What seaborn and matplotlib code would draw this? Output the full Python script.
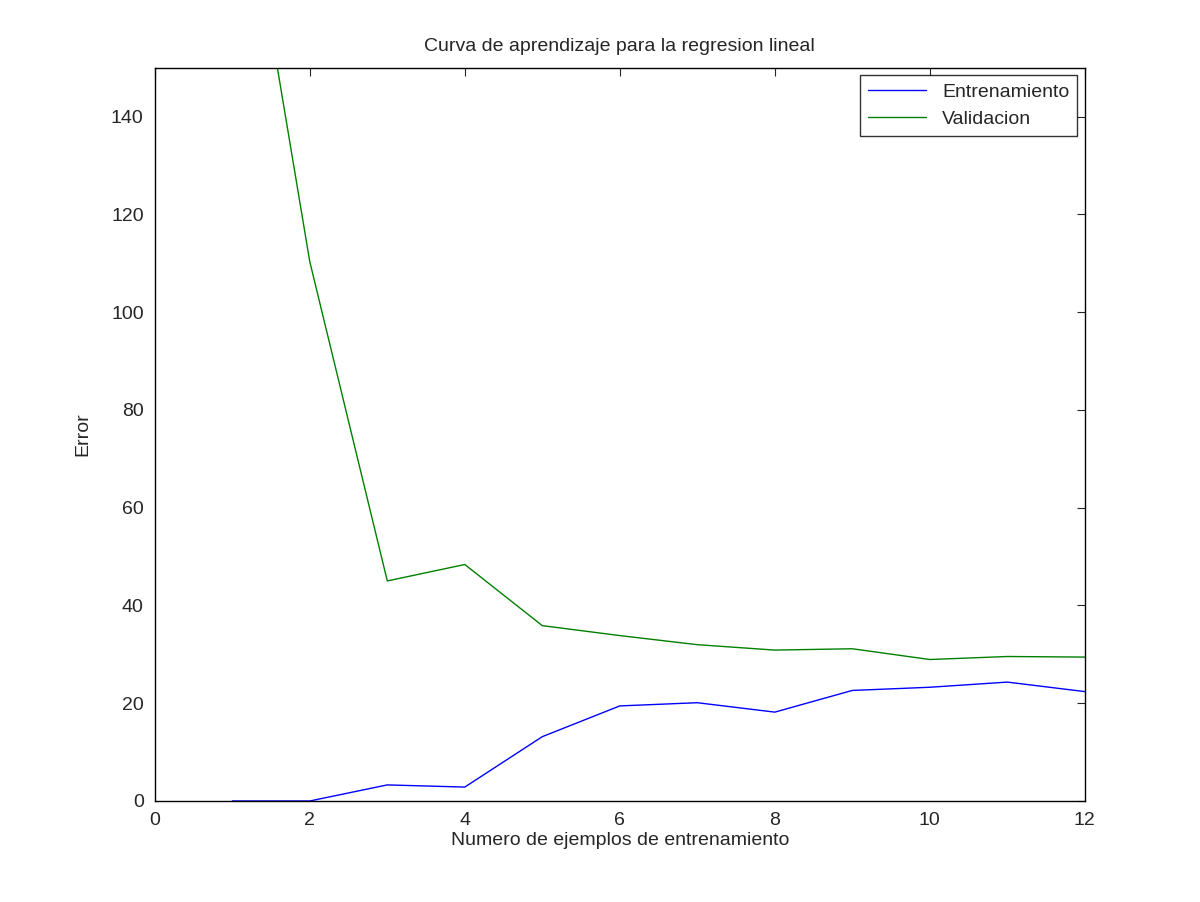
import matplotlib
matplotlib.use("Agg")
import matplotlib.pyplot as plt
import seaborn as sns
import pandas as pd

m = list(range(1, 13))
error_train = [0.0, 0.0, 3.2866, 2.8427, 13.1540, 19.4440, 20.0985, 18.1729,
               22.6094, 23.2615, 24.3173, 22.3739]
error_val = [205.1211, 110.3004, 45.0102, 48.3689, 35.8652, 33.8300, 31.9710,
             30.8624, 31.1360, 28.9362, 29.5514, 29.4338]

df = pd.DataFrame({"m": m + m,
                   "error": error_train + error_val,
                   "set": ["Entrenamiento"] * 12 + ["Validacion"] * 12})

sns.set_style("white")
plt.rcParams["font.family"] = ["Liberation Sans", "DejaVu Sans"]

fig, ax = plt.subplots(figsize=(12, 9.02), dpi=100)
fig.subplots_adjust(left=0.129, right=0.904, top=0.925, bottom=0.112)

sns.lineplot(data=df, x="m", y="error", hue="set",
             palette=["#0000ff", "#008000"], linewidth=1, ax=ax)

ax.set_xlim(0, 12)
ax.set_ylim(0, 150)
ax.set_xticks(range(0, 13, 2))
ax.set_yticks(range(0, 141, 20))
ax.tick_params(direction="in", top=True, right=True, labelsize=14, length=6, pad=8)
for s in ax.spines.values():
    s.set_color("black")
    s.set_linewidth(1)

ax.set_title("Curva de aprendizaje para la regresion lineal", fontsize=14, pad=12)
ax.set_xlabel("Numero de ejemplos de entrenamiento", fontsize=14, labelpad=2)
ax.set_ylabel("Error", fontsize=14, labelpad=14)

leg = ax.legend(loc="upper right", fontsize=14, frameon=True, fancybox=False,
                borderaxespad=0.4, handlelength=3)
leg.get_frame().set_edgecolor("black")
leg.get_frame().set_linewidth(1)

fig.savefig("out.png", dpi=100)
